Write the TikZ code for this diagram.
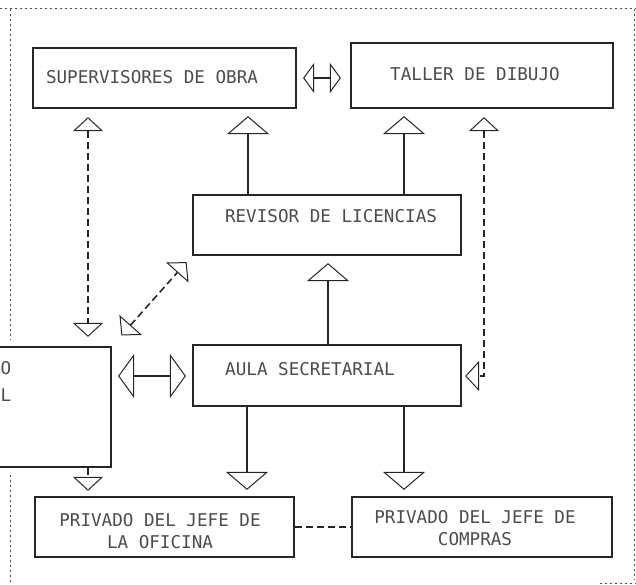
\documentclass[tikz,border=0pt]{standalone}
\usepackage{fontspec}
\newfontfamily\lett{DejaVu Sans Mono}
\usetikzlibrary{arrows.meta}
\tikzset{
  box/.style={draw=black!85,line width=2.2pt,inner sep=0pt},
  lbl/.style={font=\lett\fontsize{17.6}{22}\selectfont,text=black!70,inner sep=0pt,align=center},
  sline/.style={line width=1.1pt,draw=black!85},
  dsh/.style={line width=1.6pt,draw=black!85,dash pattern=on 7pt off 4pt},
  pageedge/.style={line width=1pt,draw=black!70,dash pattern=on 2pt off 3pt},
  bigT/.tip={Triangle[open,length=18pt,width=42pt,line width=1pt]},
  medT/.tip={Triangle[open,length=14pt,width=30pt,line width=1pt]},
  topT/.tip={Triangle[open,length=11pt,width=30pt,line width=1pt]},
  tallT/.tip={Triangle[open,length=16pt,width=44pt,line width=1pt]}
}
\begin{document}
\begin{tikzpicture}[x=1pt,y=-1pt]
\useasboundingbox (0,0) rectangle (636,585);
\fill[white] (0,0) rectangle (636,585);
% page edges
\draw[pageedge] (0,9) -- (636,9);
\draw[pageedge] (10,9) -- (10,340);
\draw[pageedge] (10,475) -- (10,585);
\draw[pageedge] (634,9) -- (634,580);
\draw[pageedge] (600,583) -- (636,583);
% boxes
\node[box,minimum width=263pt,minimum height=60pt] (sup) at (164.5,78) {};
\node[box,minimum width=262pt,minimum height=65pt] (tal) at (482,75.5) {};
\node[box,minimum width=268pt,minimum height=60pt] (rev) at (327,225) {};
\node[box,minimum width=268pt,minimum height=61pt] (aula) at (327,375.5) {};
\node[box,minimum width=131pt,minimum height=120pt] (left) at (45.5,407) {};
\node[box,minimum width=259pt,minimum height=60pt] (pjo) at (164.5,527) {};
\node[box,minimum width=260pt,minimum height=60pt] (pjc) at (482,527) {};
% texts
\node[lbl] (supt) at (152,77) {SUPERVISORES DE OBRA};
\node[lbl] (talt) at (475,74) {TALLER DE DIBUJO};
\node[lbl] (revt) at (331,216) {REVISOR DE LICENCIAS};
\node[lbl] (aulat) at (310,369) {AULA SECRETARIAL};
\node[lbl] (pjot) at (160,531) {PRIVADO DEL JEFE DE\\LA OFICINA};
\node[lbl] (pjct) at (475,528) {PRIVADO DEL JEFE DE\\COMPRAS};
\node[lbl] (lo) at (6,368) {O};
\node[lbl] (ll) at (6,395) {L};
% connectors
\draw[sline,{topT}-{topT},shorten <=6pt,shorten >=9pt] (sup.east) -- (sup.east -| tal.west);
\draw[dsh,{medT}-{medT},shorten <=8pt,shorten >=9pt] (sup.south -| 88,0) -- (left.north -| 88,0);
\draw[sline,-{bigT},shorten >=7pt] (rev.north -| 248,0) -- (sup.south -| 248,0);
\draw[sline,-{bigT},shorten >=7pt] (rev.north -| 404,0) -- (tal.south -| 404,0);
\draw[dsh,{medT}-{medT},shorten <=8pt,shorten >=3pt] (tal.south -| 484,0) |- (aula.east |- 0,376);
\draw[sline,-{bigT},shorten >=7pt] (aula.north -| 328,0) -- (rev.south -| 328,0);
\draw[dsh,{medT}-{medT},shorten <=14pt,shorten >=8pt] (left.north east) -- (rev.south west);
\draw[sline,{tallT}-{tallT},shorten <=6pt,shorten >=6pt] (left.east |- 0,376) -- (aula.west |- 0,376);
\draw[sline,-{bigT},shorten >=6pt] (aula.south -| 247,0) -- (pjo.north -| 247,0);
\draw[sline,-{bigT},shorten >=6pt] (aula.south -| 404,0) -- (pjc.north -| 404,0);
\draw[dsh,-{medT},shorten >=5pt] (left.south -| 88,0) -- (pjo.north -| 88,0);
\draw[dsh] (pjo.east) -- (pjc.west);
\end{tikzpicture}
\end{document}
